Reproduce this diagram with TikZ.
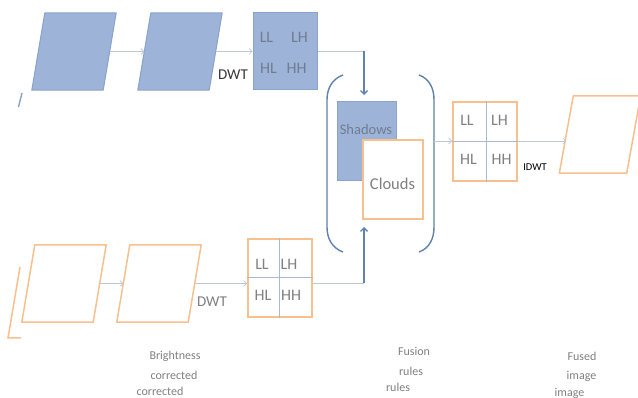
\documentclass[tikz,border=0pt]{standalone}
\usepackage{fontspec}
\setmainfont{Carlito}
\usetikzlibrary{arrows.meta,calc}
\definecolor{bfill}{RGB}{157,180,216}
\definecolor{bedge}{RGB}{138,163,204}
\definecolor{oedge}{RGB}{248,192,142}
\definecolor{steel}{RGB}{95,130,175}
\definecolor{thin}{RGB}{188,200,216}
\definecolor{tgray}{RGB}{128,128,128}
\definecolor{bgray}{RGB}{112,124,146}
\definecolor{dark}{RGB}{55,55,55}
\definecolor{grid}{RGB}{170,185,205}
\newcommand\mypgram[3]{%
  \draw[#2] ($(#1.north west)+(#3/2,0)$) -- ($(#1.north east)+(#3/2,0)$) --
    ($(#1.south east)-(#3/2,0)$) -- ($(#1.south west)-(#3/2,0)$) -- cycle;}
\begin{document}
\begin{tikzpicture}[x=1pt,y=-1pt,
  slot/.style={inner sep=0pt, minimum width=71pt, minimum height=77pt},
  bluebox/.style={fill=bfill, draw=bedge, line width=1pt, inner sep=0pt},
  orbox/.style={fill=white, draw=oedge, line width=1.6pt, inner sep=0pt},
  bluepg/.style={fill=bfill, draw=bedge, line width=1pt, line join=round},
  orpg/.style={fill=white, draw=oedge, line width=1.5pt, line join=round},
  conn/.style={draw=thin, line width=0.7pt, -{Straight Barb[length=3pt,width=6pt]}},
  connplain/.style={draw=thin, line width=0.7pt},
  bigarrow/.style={draw=steel, line width=1.3pt, -{Straight Barb[length=3.5pt,width=7pt]}},
  bracketline/.style={draw=steel, line width=1.4pt},
  gridline/.style={draw=grid, line width=0.7pt},
  cell/.style={font=\fontsize{16}{18}\selectfont, text=tgray, inner sep=0pt},
  bcell/.style={font=\fontsize{16}{18}\selectfont, text=bgray, inner sep=0pt},
  dwt/.style={font=\fontsize{15}{17}\selectfont, text=dark, inner sep=0pt},
  captext/.style={font=\fontsize{12}{14}\selectfont, text=tgray, inner sep=0pt}]
\clip (0,0) rectangle (638,398);
\fill[white] (0,0) rectangle (638,398);

% left slivers
\draw[draw=bedge, line width=1.4pt] (22,93) -- (18.5,107);
\draw[draw=oedge, line width=1.5pt] (20,267) -- (8,338) -- (21,338);

% top row
\node[slot] (p1) at (74,51.5) {};
\node[slot] (p2) at (180,51.5) {};
\mypgram{p1}{bluepg}{13}
\mypgram{p2}{bluepg}{13}
\node[bluebox, minimum width=64pt, minimum height=77pt] (bb) at (285,51.5) {};
\node[bcell] (bLL) at (266.5,37) {LL};
\node[bcell] (bLH) at (299.5,37) {LH};
\node[bcell] (bHL) at (268.5,68.5) {HL};
\node[bcell] (bHH) at (296.5,68.5) {HH};
\node[dwt] (dwt1) at (233,75) {DWT};

% bottom row
\node[slot] (pa) at (64,283.5) {};
\node[slot] (pb) at (159,283.5) {};
\mypgram{pa}{orpg}{13}
\mypgram{pb}{orpg}{13}
\node[orbox, minimum width=64pt, minimum height=78pt] (ob) at (280,278) {};
\draw[gridline] (ob.north -| 279,0) -- (ob.south -| 279,0);
\draw[gridline] (ob.west |- 0,277) -- (ob.east |- 0,277);
\node[cell] (oLL) at (262,264) {LL};
\node[cell] (oLH) at (289,264) {LH};
\node[cell] (oHL) at (263,295) {HL};
\node[cell] (oHH) at (291,295) {HH};
\node[dwt, text=tgray] (dwt2) at (212,302) {DWT};

% fusion block
\node[bluebox, minimum width=59pt, minimum height=79pt] (sh) at (366.5,141.5) {};
\node[font=\fontsize{14.5}{16}\selectfont, text=bgray, inner sep=0pt] (shT) at (366,130) {Shadows};
\node[orbox, minimum width=60pt, minimum height=79pt] (cl) at (393,179.5) {};
\node[font=\fontsize{16.5}{18}\selectfont, text=tgray, inner sep=0pt] (clT) at (392.5,184) {Clouds};
\draw[bracketline] (343,75) to[out=200,in=90] (327,100) -- (327,227) to[out=-90,in=160] (343,252);
\draw[bracketline] (419,75) to[out=-20,in=90] (434,100) -- (434,227) to[out=-90,in=20] (419,252);
\coordinate (brR) at (434,141);

% fused coefficients
\node[orbox, minimum width=64pt, minimum height=79pt] (mb) at (485,141.5) {};
\draw[gridline] (mb.north -| 486,0) -- (mb.south -| 486,0);
\draw[gridline] (mb.west |- 0,141) -- (mb.east |- 0,141);
\node[cell] (mLL) at (467,120.5) {LL};
\node[cell] (mLH) at (499.5,120.5) {LH};
\node[cell] (mHL) at (468.5,159) {HL};
\node[cell] (mHH) at (501.5,159) {HH};
\node[dwt, font=\fontsize{10.5}{12}\selectfont, text=black] (idwt) at (535,167.5) {IDWT};

% output
\node[slot, minimum width=67pt] (out) at (600,134.5) {};
\mypgram{out}{orpg}{14}

% connectors
\draw[conn] (p1.east) -- (p2.west);
\draw[conn] (p2.east) -- (bb.west |- p2.east);
\coordinate (tTop) at (364,51.5);
\coordinate (tEnd) at (364,95);
\draw[connplain] (bb.east |- tTop) -- (tTop);
\draw[bigarrow] (tTop) -- (tEnd);
\draw[conn] (pa.east) -- (pb.west);
\draw[conn] (pb.east) -- (ob.west |- pb.east);
\coordinate (bBot) at (364,283.5);
\coordinate (bEnd) at (364,227);
\draw[connplain] (ob.east |- bBot) -- (bBot);
\draw[bigarrow] (bBot) -- (bEnd);
\draw[conn] (brR) -- (mb.west |- brR);
\draw[conn] (mb.east |- brR) -- (out.west |- brR);

% captions
\node[captext] (c1) at (175,356) {Brightness};
\node[captext] (c2) at (174,375) {corrected};
\node[captext] (c3) at (160,391) {corrected};
\node[captext] (c4) at (414,351) {Fusion};
\node[captext] (c5) at (411,371) {rules};
\node[captext] (c6) at (398,387) {rules};
\node[captext] (c7) at (582,356) {Fused};
\node[captext] (c8) at (581.5,376) {image};
\node[captext] (c9) at (569.5,393) {image};
\end{tikzpicture}
\end{document}
